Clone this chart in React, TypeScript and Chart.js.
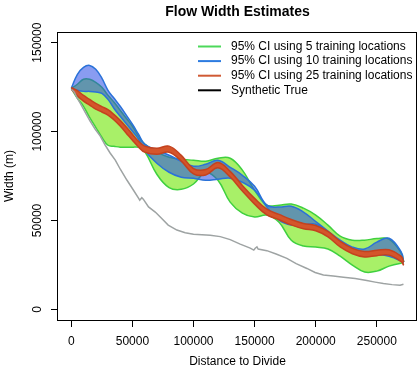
import React, { useEffect, useRef } from 'react';
import { Chart, registerables } from 'chart.js';

Chart.register(...registerables);

const FONT = "'Liberation Sans', Arial, Helvetica, sans-serif";

const chartTitle = 'Flow Width Estimates';
const xTitle = 'Distance to Divide';
const yTitle = 'Width (m)';

const xTicks = [0, 50000, 100000, 150000, 200000, 250000];
const yTicks = [0, 50000, 100000, 150000];

const distance = [0, 5000, 10000, 15000, 20000, 25000, 30000, 35000, 40000, 45000, 50000, 55000, 60000, 70000, 80000, 90000, 100000, 110000, 120000, 130000, 140000, 150000, 160000, 170000, 180000, 190000, 200000, 210000, 220000, 230000, 240000, 250000, 260000, 270000, 272000];

const ci5Upper = [124300, 126600, 129400, 129400, 127700, 124900, 120400, 116500, 112000, 107500, 103000, 97400, 92900, 88400, 85600, 84400, 83900, 83300, 85000, 85000, 78300, 67000, 58600, 58600, 59200, 56900, 53000, 47400, 41200, 38900, 38900, 39800, 39500, 31600, 26600];
const ci5Lower = [124300, 118700, 114200, 108000, 102400, 96800, 92300, 91700, 91200, 91200, 91200, 91200, 88900, 76000, 68500, 67500, 70500, 77000, 72600, 60300, 54100, 51900, 53000, 49000, 38900, 35600, 35000, 33900, 29900, 24900, 21000, 21500, 24300, 26000, 26000];

const ci10Upper = [124300, 132200, 136100, 137200, 135000, 130000, 123200, 118700, 114200, 109200, 104100, 98500, 92900, 89500, 86700, 83300, 80500, 81600, 83900, 79900, 75400, 69200, 58600, 57500, 58000, 54700, 49400, 44000, 38900, 35000, 33900, 37800, 40000, 32200, 26600];
const ci10Lower = [124300, 123200, 122600, 122600, 122300, 121500, 118100, 113000, 108600, 104400, 100200, 95700, 89500, 82200, 77100, 74300, 73800, 72600, 73200, 73800, 71500, 67000, 57500, 50200, 47400, 47400, 47900, 43400, 36100, 32200, 30500, 30900, 29900, 27100, 26000];

const ci25Upper = [124800, 123000, 120300, 118100, 115800, 114000, 112300, 109500, 106300, 102500, 98500, 94500, 91800, 90600, 91800, 86600, 79200, 78600, 82600, 77600, 69700, 62400, 56300, 53400, 50500, 48300, 47200, 43800, 38300, 34300, 32500, 33200, 33500, 29800, 26500];
const ci25Lower = [123800, 120000, 117100, 114900, 112600, 111000, 109300, 106500, 103100, 99100, 95100, 91300, 88400, 87200, 88400, 83400, 76200, 75600, 79600, 74400, 66500, 59200, 53100, 50400, 47500, 45300, 44200, 40800, 35100, 31300, 29500, 30200, 30500, 26800, 24700];

const truthDistance = [0, 2500, 4100, 7400, 11400, 15500, 19600, 23700, 27800, 31900, 36000, 40100, 45600, 50900, 55000, 56000, 57700, 58900, 63200, 68700, 72800, 79300, 86400, 93200, 100000, 113700, 121900, 130000, 138200, 146400, 149300, 150500, 151900, 152900, 160000, 167600, 176400, 184000, 192800, 199500, 206300, 214300, 222700, 232300, 241800, 248600, 255400, 262500, 269000, 271800];
const truthWidth = [123800, 122100, 119800, 115900, 110800, 105800, 101300, 97400, 92300, 87800, 83900, 78800, 72600, 67000, 62500, 61400, 62800, 62000, 57600, 54700, 51900, 47400, 44600, 43100, 42300, 41700, 40900, 39200, 36700, 34400, 33300, 34400, 35100, 33900, 33000, 31100, 28700, 25700, 23000, 20700, 19300, 18700, 18100, 17300, 16200, 15300, 14500, 13900, 13500, 14100];

const legendLabels = ['95% CI using 5 training locations', '95% CI using 10 training locations', '95% CI using 25 training locations', 'Synthetic True'];
const legendColors = ['#4CD85A', '#2C7BE0', '#D05A34', '#000000'];

const pts = (xs: number[], ys: number[]) => xs.map((x, i) => ({ x, y: ys[i] }));

const boxPlugin = {
  id: 'rBox',
  afterDatasetsDraw(chart: any) {
    const { ctx, chartArea } = chart;
    ctx.save();
    ctx.strokeStyle = '#000';
    ctx.lineWidth = 1;
    const l = Math.round(chartArea.left) - 0.5;
    const t = Math.round(chartArea.top) + 0.5;
    const r = Math.round(chartArea.right) - 0.5;
    const b = Math.round(chartArea.bottom) + 0.5;
    ctx.strokeRect(l, t, r - l, b - t);
    ctx.restore();
  },
};

const titlePlugin = {
  id: 'rTitle',
  afterDraw(chart: any) {
    const { ctx, chartArea } = chart;
    ctx.save();
    ctx.font = `bold 14px ${FONT}`;
    ctx.fillStyle = '#000';
    ctx.textAlign = 'center';
    ctx.textBaseline = 'middle';
    ctx.fillText(chartTitle, (chartArea.left + chartArea.right) / 2, 12);
    ctx.restore();
  },
};

const legendPlugin = {
  id: 'rLegend',
  afterDraw(chart: any) {
    const { ctx, chartArea } = chart;
    ctx.save();
    ctx.font = `12px ${FONT}`;
    ctx.textAlign = 'left';
    ctx.textBaseline = 'middle';
    const x0 = chartArea.right - 219;
    legendLabels.forEach((label, i) => {
      const y = chartArea.top + 14.5 + i * 14.6;
      ctx.strokeStyle = legendColors[i];
      ctx.lineWidth = 2;
      ctx.beginPath();
      ctx.moveTo(x0, y);
      ctx.lineTo(x0 + 23, y);
      ctx.stroke();
      ctx.fillStyle = '#000';
      ctx.fillText(label, x0 + 33, y);
    });
    ctx.restore();
  },
};

export default function App() {
  const ref = useRef<HTMLCanvasElement>(null);

  useEffect(() => {
    Chart.defaults.font.family = FONT;
    Chart.defaults.font.size = 12;
    Chart.defaults.color = '#000';

    const line = (data: any, border: string, bg: string, fill: any, order: number, width: number, tension: number) => ({
      data,
      borderColor: border,
      backgroundColor: bg,
      borderWidth: width,
      fill,
      order,
      pointRadius: 0,
      tension,
    });

    const chart = new Chart(ref.current as HTMLCanvasElement, {
      type: 'line',
      data: {
        datasets: [
          { label: legendLabels[0], ...line(pts(distance, ci5Upper), '#3FD03F', '#A8F068', '+1', 31, 1.5, 0.4) },
          { label: legendLabels[0] + ' lower', ...line(pts(distance, ci5Lower), '#3FD03F', '#A8F068', false, 30, 1.5, 0.4) },
          { label: legendLabels[1], ...line(pts(distance, ci10Upper), '#2A72D8', 'rgba(40, 75, 230, 0.55)', '+1', 21, 1.5, 0.4) },
          { label: legendLabels[1] + ' lower', ...line(pts(distance, ci10Lower), '#2A72D8', 'rgba(40, 75, 230, 0.55)', false, 20, 1.5, 0.4) },
          { label: legendLabels[2], ...line(pts(distance, ci25Upper), '#C4421E', '#D4552B', '+1', 11, 1.5, 0.4) },
          { label: legendLabels[2] + ' lower', ...line(pts(distance, ci25Lower), '#C4421E', '#D4552B', false, 10, 1.5, 0.4) },
          { label: legendLabels[3], ...line(pts(truthDistance, truthWidth), '#9EA3A3', '#9EA3A3', false, 0, 1.5, 0) },
        ],
      },
      options: {
        responsive: false,
        animation: false,
        layout: { padding: { top: 32, right: 2, left: 0, bottom: 0 } },
        plugins: {
          legend: { display: false },
          title: { display: false },
          tooltip: { enabled: false },
        },
        scales: {
          x: {
            type: 'linear',
            min: -10880,
            max: 282880,
            bounds: 'data',
            afterBuildTicks: (s: any) => {
              s.ticks = xTicks.map((v) => ({ value: v }));
            },
            afterFit: (s: any) => {
              s.height = 60;
            },
            ticks: {
              autoSkip: false,
              maxRotation: 0,
              minRotation: 0,
              padding: 7.5,
              color: '#000',
              font: { size: 12, family: FONT },
              callback: (v: any) => String(v),
            },
            grid: { display: true, drawOnChartArea: false, drawTicks: true, tickLength: 7, color: '#000', lineWidth: 1 },
            border: { display: false },
            title: { display: true, text: xTitle, color: '#000', font: { size: 12, family: FONT }, padding: { top: 0, bottom: 11 } },
          },
          y: {
            type: 'linear',
            min: -6000,
            max: 156000,
            bounds: 'data',
            afterBuildTicks: (s: any) => {
              s.ticks = yTicks.map((v) => ({ value: v }));
            },
            afterFit: (s: any) => {
              s.width = 58;
            },
            ticks: {
              minRotation: 90,
              maxRotation: 90,
              crossAlign: 'center',
              padding: -7,
              color: '#000',
              font: { size: 12, family: FONT },
              callback: (v: any) => String(v),
            },
            grid: { display: true, drawOnChartArea: false, drawTicks: true, tickLength: 7, color: '#000', lineWidth: 1 },
            border: { display: false },
            title: { display: true, text: yTitle, color: '#000', font: { size: 12, family: FONT }, padding: { top: 2, bottom: 0 } },
          },
        },
      } as any,
      plugins: [boxPlugin, titlePlugin, legendPlugin],
    });

    return () => chart.destroy();
  }, []);

  return (
    <div style={{ position: 'fixed', left: 0, top: 0, width: 419, height: 380, background: '#fff' }}>
      <canvas ref={ref} width={419} height={380} style={{ display: 'block' }} />
    </div>
  );
}
